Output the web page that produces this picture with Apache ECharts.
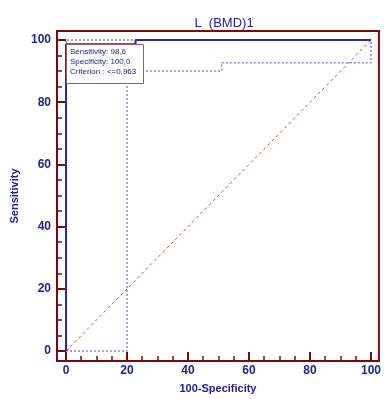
<!DOCTYPE html>
<html><head><meta charset="utf-8">
<script src="https://cdn.jsdelivr.net/npm/echarts@6/dist/echarts.min.js"></script>
<style>html,body{margin:0;padding:0;background:#fff}#c{width:384px;height:399px}</style>
</head><body><div id="c"></div>
<script>
const chartTitle = 'L  (BMD)1';
const xTitle = '100-Specificity';
const yTitle = 'Sensitivity';
const majorTicks = [0, 20, 40, 60, 80, 100];
const minorTicks = [5, 10, 15, 25, 30, 35, 45, 50, 55, 65, 70, 75, 85, 90, 95];
const rocCurve = [[0, 0], [0, 98.6], [22.8, 98.6], [22.8, 100], [100, 100]];
const upperBound = [[0, 0], [0, 100], [100, 100]];
const lowerBound = [[0, 0], [20, 0], [20, 90], [51, 90], [51, 92.7], [100, 92.7], [100, 100]];
const diagonal = [[0, 0], [100, 100]];
const infoLines = ['Sensitivity: 98,6', 'Specificity: 100,0', 'Criterion : <=0,963'];

const navy = '#23238c';
const frame = '#7a0a0a';
const font = 'Liberation Sans, Arial, sans-serif';
const xMin = -2.95, xMax = 102.6, yMin = -3.2, yMax = 102.9;

function axisPair(dim) {
  const pos = dim === 'x' ? 'bottom' : 'left';
  const base = {
    type: 'value', position: pos, min: dim === 'x' ? xMin : yMin, max: dim === 'x' ? xMax : yMax,
    splitLine: { show: false },
    axisLine: { show: true, onZero: false, lineStyle: { color: frame, width: 2 } },
  };
  return [
    Object.assign({}, base, {
      axisTick: { show: true, inside: true, length: 9, customValues: majorTicks, lineStyle: { color: frame, width: 2 } },
      axisLabel: { show: true, customValues: majorTicks, color: navy, fontFamily: font, fontSize: 12, fontWeight: 'bold', margin: dim === 'x' ? 4 : 6 },
      name: dim === 'x' ? xTitle : yTitle,
      nameLocation: 'middle',
      nameGap: dim === 'x' ? 22 : 35,
      nameTextStyle: { color: navy, fontFamily: font, fontSize: 11, fontWeight: 'bold' }
    }),
    Object.assign({}, base, {
      axisTick: { show: true, inside: true, length: 5, customValues: minorTicks, lineStyle: { color: frame, width: 1.5 } },
      axisLabel: { show: false }
    })
  ];
}

const chart = echarts.init(document.getElementById('c'), null, { renderer: 'canvas' });
chart.setOption({
  animation: false,
  title: { text: chartTitle, left: 219, textAlign: 'center', top: 12, textStyle: { color: navy, fontFamily: font, fontSize: 13, fontWeight: 'normal' } },
  grid: { left: 57, right: 3, top: 31, bottom: 37, show: true, borderColor: frame, borderWidth: 2, backgroundColor: '#fff' },
  xAxis: axisPair('x'),
  yAxis: axisPair('y'),
  series: [
    { type: 'line', data: diagonal, symbol: 'none', lineStyle: { color: '#c05050', width: 1, type: [3, 3] }, z: 1 },
    { type: 'line', data: upperBound, symbol: 'none', lineStyle: { color: '#8888d8', width: 1.5, type: [2, 2] }, z: 2 },
    { type: 'line', data: lowerBound, symbol: 'none', lineStyle: { color: '#8888d8', width: 1.5, type: [2, 2] }, z: 2 },
    { type: 'line', data: rocCurve, symbol: 'none', lineStyle: { color: '#2a2a90', width: 2 }, z: 3 }
  ],
  graphic: [
    { type: 'rect', left: 66, top: 44, z: 10, shape: { width: 77, height: 39 }, style: { fill: '#fff', stroke: '#a05a5a', lineWidth: 1 } },
    { type: 'text', left: 70, top: 47, z: 11, style: { text: infoLines.join('\n'), fill: navy, font: '8px ' + font, lineHeight: 10 } }
  ]
});
</script></body></html>
